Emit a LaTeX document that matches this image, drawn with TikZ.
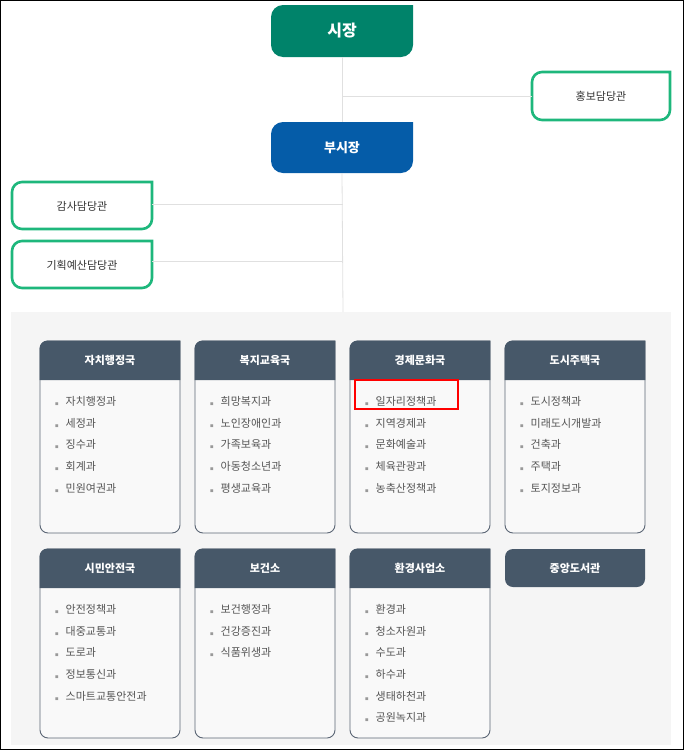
\documentclass[tikz,border=0pt]{standalone}
\usepackage{fontspec}
\setmainfont{Noto Sans CJK KR}
\begin{document}
\definecolor{mgreen}{HTML}{00836A}
\definecolor{mblue}{HTML}{055CA8}
\definecolor{gline}{HTML}{1EB77C}
\definecolor{hdr}{HTML}{475869}
\definecolor{cbord}{HTML}{5B6675}
\definecolor{bgg}{HTML}{F5F5F5}
\definecolor{cbg}{HTML}{F9F9F9}
\definecolor{itm}{HTML}{555555}
\newcommand{\rbox}[6]{% x1 y1 x2 y2 r style
  \path[#6] (#1,#4) [rounded corners=#5] -- (#1,#2) [sharp corners] -- (#3,#2) [rounded corners=#5] -- (#3,#4) -- cycle;}
\begin{tikzpicture}[x=1pt,y=-1pt,
  line/.style={draw=black!12,line width=0.8pt},
  item/.style={anchor=west,font=\fontsize{11}{13}\selectfont,text=itm,inner sep=0pt}]
\useasboundingbox (0,0) rectangle (684,750);
\draw[line width=1pt] (0.5,0.5) rectangle (683.5,749.5);
\fill[bgg] (11,312) rectangle (671,745);
% top
\rbox{271}{5}{413}{57}{12}{fill=mgreen}
\node[text=white,font=\fontsize{16}{18}\selectfont\bfseries] (mayor) at (342,31) {시장};
\rbox{271}{122}{413}{173}{12}{fill=mblue}
\node[text=white,font=\fontsize{13}{15}\selectfont\bfseries] (vice) at (342,148) {부시장};
\rbox{532}{72}{670}{120}{10}{draw=gline,line width=2.6pt,fill=white}
\node[font=\fontsize{11}{13}\selectfont,text=black!80] (pr) at (601,96) {홍보담당관};
\rbox{12}{182}{152}{229}{10}{draw=gline,line width=2.6pt,fill=white}
\node[font=\fontsize{11}{13}\selectfont,text=black!80] (audit) at (82,206) {감사담당관};
\rbox{12}{241}{152}{288}{10}{draw=gline,line width=2.6pt,fill=white}
\node[font=\fontsize{11}{13}\selectfont,text=black!80] (plan) at (82,265) {기획예산담당관};
\coordinate (bot) at (343,312);
\coordinate (j1) at (343,96);
\coordinate (j2) at (343,204);
\coordinate (j3) at (343,261);
\draw[line] (mayor.south|-0,57) -- (vice.north|-0,122);
\draw[line] (vice.south|-0,173) -- (bot);
\draw[line] (j1) -- (532,96);
\draw[line] (j2) -- (152,204);
\draw[line] (j3) -- (152,261);
% cards
\newcommand{\card}[5]{% x y(top) ybottom title items
  \rbox{#1}{#2}{#1+140}{#3}{8}{draw=cbord,line width=0.9pt,fill=cbg}
  \path[fill=hdr,rounded corners=8] (#1-0.45,#2+39) -- (#1-0.45,#2-0.45) [sharp corners] -- (#1+140.45,#2-0.45) -- (#1+140.45,#2+39) -- cycle;
  \node[text=white,font=\fontsize{11}{13}\selectfont\bfseries] at (#1+70,#2+19.5) {#4};
  \foreach \t [count=\i] in {#5} {
    \node[item] at (#1+15,#2+38.5+21.7*\i) {{\fontsize{3.5}{4}\selectfont\textcolor{black!40}{■}}\hspace{7pt}\t};}
}
\card{40}{341}{533}{자치행정국}{자치행정과,세정과,징수과,회계과,민원여권과}
\card{195}{341}{533}{복지교육국}{희망복지과,노인장애인과,가족보육과,아동청소년과,평생교육과}
\card{350}{341}{533}{경제문화국}{일자리정책과,지역경제과,문화예술과,체육관광과,농축산정책과}
\card{505}{341}{533}{도시주택국}{도시정책과,미래도시개발과,건축과,주택과,토지정보과}
\card{40}{549}{738}{시민안전국}{안전정책과,대중교통과,도로과,정보통신과,스마트교통안전과}
\card{195}{549}{738}{보건소}{보건행정과,건강증진과,식품위생과}
\card{350}{549}{738}{환경사업소}{환경과,청소자원과,수도과,하수과,생태하천과,공원녹지과}
\rbox{505}{549}{645}{587}{8}{fill=hdr}
\node[text=white,font=\fontsize{11}{13}\selectfont\bfseries] (lib) at (575,568) {중앙도서관};
\draw[red,line width=1.6pt] (355,380) rectangle (458,409);
\end{tikzpicture}
\end{document}
